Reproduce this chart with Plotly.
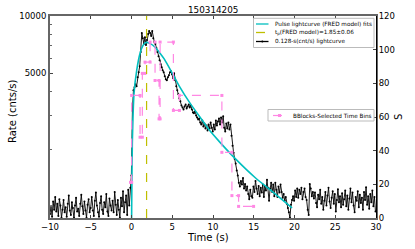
import plotly.graph_objects as go

# ---------------- data ----------------
title_text = "150314205"
bin_width = 0.128
t_start = -10.0

rate_pre = [910, 1000, 880, 1060, 960, 1120, 940, 1030, 890, 1090,
            1010, 870, 960, 1080, 930, 990, 880, 1030, 1140, 950,
            900, 1050, 980, 870, 1010, 1110, 940, 970, 890, 1030,
            1150, 1000, 910, 1060, 950, 870, 1020, 1090, 930, 980,
            1120, 950, 890, 1070, 1180, 1010, 930, 880, 1040, 1130,
            960, 910, 1050, 990, 1160, 940, 890, 1100, 1010, 950,
            1070, 930, 1190, 1020, 900, 1080, 960, 870, 1110, 1000,
            1200, 930, 1050, 1140, 900, 1220, 1010, 1250]

rate_burst = [1450, 3190, 4070, 4220, 4380, 4270, 4760, 5060, 5450, 6460,
              8130, 7650, 7120, 7740, 7030, 7470, 8040, 8330, 8130, 7840,
              8330, 7650, 7290, 7120, 6780, 6460, 6150, 5860, 5580, 5380,
              5190, 5060, 4820, 4650, 4590, 4760, 4880, 5060, 5120, 4940,
              4710, 5000, 4590, 4270, 4070, 3880, 3690, 3560, 3390, 3310,
              3230, 3350, 3430, 3270, 3350, 3430, 3310, 3390, 3230, 3110,
              3080, 3150, 3000, 2930, 2860, 2890, 2760, 2690, 2820, 2630,
              2720, 2560, 2660, 2500, 2690, 2560, 2760, 2590, 2470, 2690,
              2530, 2820, 2660, 2790, 2890, 2690, 2930, 2760, 2970, 2590,
              2470, 2720, 2560, 2760, 2530, 2690, 2350, 2080, 1910, 1780,
              1680, 1540, 1450, 1330, 1270, 1360, 1300, 1410, 1240, 1310,
              1210, 1270, 1160, 1090, 1220, 1130, 1110, 1270, 1190, 1360,
              1240, 1160, 1280, 1130, 1250, 1180, 1300, 1120, 1270, 1210,
              1380, 1250, 1070, 1240, 1330, 1190, 1300, 1130, 1330, 1220,
              1120, 1270, 1180, 1300, 1190, 1110, 1160, 1070, 1120, 1030,
              980, 930, 870, 1020, 1080, 1130, 1070, 1210, 1120, 1240,
              1110, 1220, 1160, 1250, 1090, 1190, 1240, 1120, 1080, 960,
              900, 1310, 1240, 1130, 1190]

rate_post = [1100, 1180, 1040, 990, 1150, 1090, 1220, 1030, 1120, 960,
             1070, 1190, 1010, 1140, 1250, 1060, 980, 1110, 1200, 1030,
             1160, 940, 1080, 1230, 1050, 1130, 990, 1170, 1020, 1090,
             1210, 1000, 1140, 960, 1100, 1240, 1050, 1180, 1010, 930,
             1120, 1070, 1200, 990, 1150, 1040, 1110, 960, 1190, 1080,
             1260, 1020, 1130, 970, 1160, 1050, 1210, 1000, 1120, 940]

fit_t = [0.0, 0.02, 0.1, 0.31, 0.64, 1.05, 1.4, 1.75, 2.3, 2.89, 3.5, 4.03,
         5.14, 5.88, 7.2, 8.43, 9.5, 10.89, 12.73, 15.19, 17.03, 19.7]
fit_rate = [700, 944, 2136, 3922, 5187, 6377, 6986, 7264, 7158, 6860, 6377, 5930,
            4882, 4270, 3473, 2929, 2532, 2161, 1780, 1413, 1221, 981]

tp = 1.85

bb_edges = [-0.12, 0.02, 1.05, 1.33, 1.66, 2.28, 2.89, 3.38, 3.51, 5.14,
            5.88, 11.09, 12.32, 13.14, 14.98]
bb_vals = [21.2, 72.8, 48.0, 85.9, 92.6, 104.5, 81.7, 58.9, 104.5, 63.9,
           72.8, 39.0, 13.3, 6.9]

x_ticks = [-10, -5, 0, 5, 10, 15, 20, 25, 30]
y_ticks = [5000, 10000]
y_minor = [1000, 2000, 3000, 4000, 6000, 7000, 8000, 9000]
y2_ticks = [0, 20, 40, 60, 80, 100, 120]

# ---------------- build ----------------
rate = rate_pre + rate_burst + rate_post
times = [t_start + bin_width * i for i in range(len(rate))]

bb_x, bb_y = [], []
for i, v in enumerate(bb_vals):
    bb_x += [bb_edges[i], bb_edges[i + 1]]
    bb_y += [v, v]

CYAN = "#00bfbf"
YEL = "#bfbf00"
PINK = "#ff88e4"
FONT = "DejaVu Sans"

fig = go.Figure()

fig.add_trace(go.Scatter(x=bb_x, y=bb_y, yaxis="y2", mode="lines+markers",
                         line=dict(color=PINK, width=1.2, dash="dash"),
                         marker=dict(symbol="square", size=3, color=PINK),
                         showlegend=False))
fig.add_trace(go.Scatter(x=times, y=rate, mode="lines+markers",
                         line=dict(color="black", width=0.9),
                         marker=dict(size=2, color="black"),
                         showlegend=False))
fig.add_trace(go.Scatter(x=fit_t, y=fit_rate, mode="lines",
                         line=dict(color=CYAN, width=1.6, shape="spline", smoothing=0.6),
                         showlegend=False))

fig.add_shape(type="line", xref="x", yref="paper", x0=tp, x1=tp, y0=0, y1=1,
              line=dict(color=YEL, width=1.2, dash="dash"))

# manual legends
W, H, L, T = 326.0, 202.0, 50.0, 16.0
def px(x):
    return (x - L) / W
def py(y):
    return (T + H - y) / H

shapes = []
ann = []
# legend 1
shapes.append(dict(type="rect", xref="paper", yref="paper", x0=px(253.5), x1=px(374),
                   y0=py(47.5), y1=py(18.3), line=dict(color="#bbbbbb", width=1),
                   fillcolor="white", layer="above"))
rows = [(24.0, "Pulse lightcurve (FRED model) fits", CYAN, "solid"),
        (32.5, "t<sub>p</sub>(FRED model)=1.85±0.06", YEL, "dash"),
        (41.5, "0.128-s(cnt/s) lightcurve", "black", "solid")]
for yy, txt, col, dsh in rows:
    shapes.append(dict(type="line", xref="paper", yref="paper", x0=px(256), x1=px(268.5),
                       y0=py(yy), y1=py(yy), line=dict(color=col, width=1.3, dash=dsh)))
    ann.append(dict(xref="paper", yref="paper", x=px(272.5), y=py(yy), text=txt,
                    showarrow=False, xanchor="left", yanchor="middle",
                    font=dict(family=FONT, size=5.7, color="black")))
shapes.append(dict(type="circle", xref="paper", yref="paper", x0=px(261.3), x1=px(263.3),
                   y0=py(42.5), y1=py(40.5), fillcolor="black", line=dict(width=0)))
# legend 2
shapes.append(dict(type="rect", xref="paper", yref="paper", x0=px(268), x1=px(374),
                   y0=py(121), y1=py(109.5), line=dict(color="#bbbbbb", width=1),
                   fillcolor="white", layer="above"))
shapes.append(dict(type="line", xref="paper", yref="paper", x0=px(273), x1=px(286),
                   y0=py(115.5), y1=py(115.5), line=dict(color=PINK, width=1.2, dash="dash")))
shapes.append(dict(type="rect", xref="paper", yref="paper", x0=px(278), x1=px(281),
                   y0=py(117), y1=py(114), fillcolor=PINK, line=dict(width=0)))
ann.append(dict(xref="paper", yref="paper", x=px(290.5), y=py(115.5),
                text="BBlocks-Selected Time Bins", showarrow=False, xanchor="left",
                yanchor="middle", font=dict(family=FONT, size=5.7, color="black")))

# titles
ann.append(dict(xref="paper", yref="paper", x=px(213), y=py(10), text=title_text,
                showarrow=False, font=dict(family=FONT, size=8.8, color="black"),
                xanchor="center", yanchor="middle"))
ann.append(dict(xref="paper", yref="paper", x=px(398), y=py(117), text="S",
                showarrow=False, font=dict(family=FONT, size=10, color="black"),
                textangle=-90, xanchor="center", yanchor="middle"))
ann.append(dict(xref="paper", yref="paper", x=px(12), y=py(111), text="Rate (cnts/s)",
                showarrow=False, font=dict(family=FONT, size=10, color="black"),
                textangle=-90, xanchor="center", yanchor="middle"))
ann.append(dict(xref="paper", yref="paper", x=px(208), y=py(237), text="Time (s)",
                showarrow=False, font=dict(family=FONT, size=10, color="black"),
                xanchor="center", yanchor="middle"))

for s in shapes:
    fig.add_shape(**s)

fig.update_layout(
    width=415, height=249,
    margin=dict(l=50, r=39, t=16, b=31, pad=0, autoexpand=False),
    paper_bgcolor="white", plot_bgcolor="white",
    font=dict(family=FONT, size=8.5, color="black"),
    annotations=ann,
    showlegend=False,
    hovermode=False,
    xaxis=dict(range=[-10, 30], tickvals=x_ticks, ticks="inside", ticklen=3,
               showgrid=False, zeroline=False, showline=True, linecolor="#666666",
               linewidth=2, mirror="ticks", tickfont=dict(size=8.5), automargin=False),
    yaxis=dict(type="log", range=[2.9385, 4.0], tickvals=y_ticks,
               ticktext=["5000", "10000"], ticks="inside", ticklen=3,
               minor=dict(tickvals=y_minor, ticks="inside", ticklen=2, tickcolor="#666666"),
               showgrid=False, zeroline=False, showline=True, linecolor="#666666",
               linewidth=2, mirror=True, tickfont=dict(size=8.5), automargin=False),
    yaxis2=dict(overlaying="y", side="right", range=[0, 120], tickvals=y2_ticks,
                ticks="inside", ticklen=3, showgrid=False, zeroline=False,
                showline=True, linecolor="black", linewidth=1,
                tickfont=dict(size=8.5), automargin=False),
)

fig.write_html("out.html", config={"displayModeBar": False, "staticPlot": True},
               post_script="document.body.style.margin='0';document.body.style.overflow='hidden';")
